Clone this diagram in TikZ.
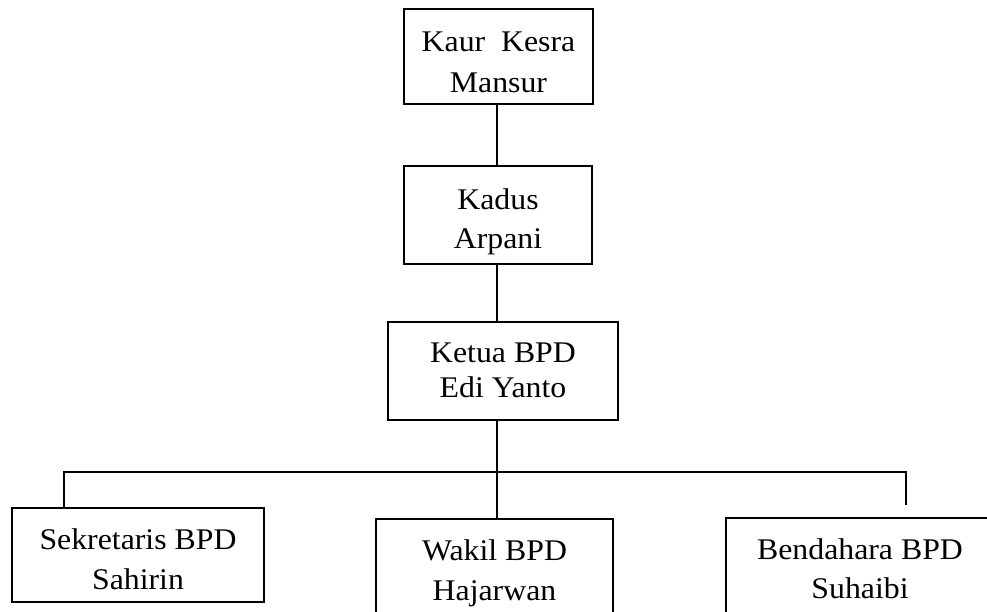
\documentclass[tikz,border=0pt]{standalone}
\usepackage{fontspec}
\setmainfont[FakeStretch=1.06]{Liberation Serif}
\newcommand\twoline[4]{\raisebox{#1}[0pt][0pt]{\fontsize{30}{#2}\selectfont\begin{tabular}[b]{@{}c@{}}#3\\#4\end{tabular}}}
\begin{document}
\begin{tikzpicture}[x=1pt,y=-1pt,
  box/.style={draw, line width=1.3pt, align=center, inner sep=0pt},
  link/.style={line width=1.3pt}]
\useasboundingbox (0,0) rectangle (987,611);
\clip (0,0) rectangle (987,611);
\coordinate (spine) at (497,0);
\node[box, minimum width=189pt, minimum height=95pt] (kaur) at (498.5,56.5) {\twoline{-35.5pt}{41pt}{Kaur\ \ Kesra}{Mansur}};
\node[box, minimum width=188pt, minimum height=98pt] (kadus) at (498,215) {\twoline{-33pt}{39pt}{Kadus}{Arpani}};
\node[box, minimum width=230pt, minimum height=98pt] (ketua) at (503,371) {\twoline{-26pt}{35pt}{Ketua BPD}{Edi Yanto}};
\node[box, minimum width=252pt, minimum height=94pt] (sek) at (138,555) {\twoline{-34pt}{40pt}{Sekretaris BPD}{Sahirin}};
\node[box, minimum width=237pt, minimum height=95pt] (wakil) at (494.5,566.5) {\twoline{-33.5pt}{40pt}{Wakil BPD}{Hajarwan}};
\node[box, minimum width=268pt, minimum height=95pt] (bend) at (860,565.5) {\twoline{-32.5pt}{39pt}{Bendahara BPD}{Suhaibi}};
\coordinate (bar) at (0,472);
\coordinate (bendend) at (906,505);
\draw[link] (kaur.south -| spine) -- (kadus.north -| spine);
\draw[link] (kadus.south -| spine) -- (ketua.north -| spine);
\draw[link] (ketua.south -| spine) -- (wakil.north -| spine);
\draw[link] (sek.north -| 64,0) |- (bar -| spine) -| (bendend);
\end{tikzpicture}
\end{document}
